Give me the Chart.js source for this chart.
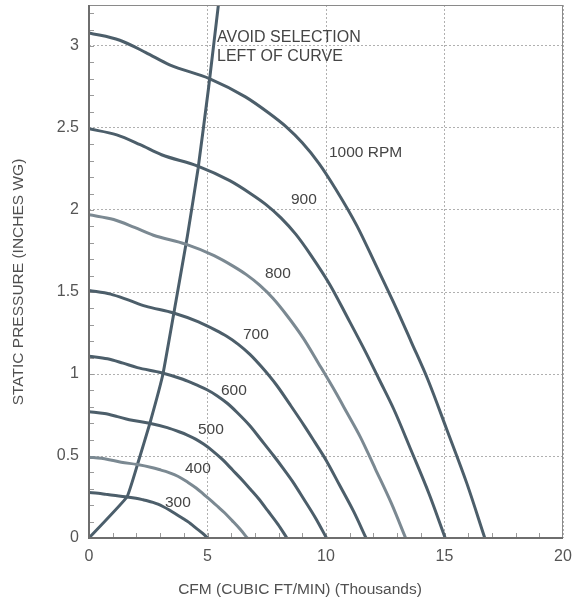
<!DOCTYPE html>
<html>
<head>
<meta charset="utf-8">
<script src="https://cdn.jsdelivr.net/npm/chart.js@4.4.0/dist/chart.umd.min.js"></script>
<style>
  html, body { margin: 0; padding: 0; background: #fff; }
  #wrap { width: 573px; height: 602px; }
</style>
</head>
<body>
<div id="wrap"><canvas id="fanChart"></canvas></div>
<script>
// fan curves, CFM in thousands vs static pressure (in. WG)
var curve1000 = [[0,3.080],[1.3,3.035],[2.4,2.960],[3.4,2.885],[5.1,2.800],[6.6,2.690],[7.6,2.590],[8.3,2.510],[9.0,2.410],[9.7,2.285],[10.4,2.130],[11.3,1.905],[12.1,1.665],[13.0,1.390],[13.6,1.195],[14.3,0.965],[15.1,0.660],[15.95,0.330],[16.7,0]];
var curve900 = [[0,2.495],[1.17,2.458],[2.16,2.398],[3.06,2.337],[4.59,2.268],[5.94,2.179],[6.84,2.098],[7.47,2.033],[8.1,1.952],[8.73,1.851],[9.36,1.725],[10.17,1.543],[10.89,1.349],[11.7,1.126],[12.24,0.968],[12.87,0.782],[13.59,0.535],[14.355,0.267],[15.03,0]];
var curve800 = [[0,1.971],[1.04,1.942],[1.92,1.894],[2.72,1.846],[4.08,1.792],[5.28,1.722],[6.08,1.658],[6.64,1.606],[7.2,1.542],[7.76,1.462],[8.32,1.363],[9.04,1.219],[9.68,1.066],[10.4,0.890],[10.88,0.765],[11.44,0.618],[12.08,0.422],[12.76,0.211],[13.36,0]];
var curve700 = [[0,1.509],[0.91,1.487],[1.68,1.450],[2.38,1.414],[3.57,1.372],[4.62,1.318],[5.32,1.269],[5.81,1.230],[6.3,1.181],[6.79,1.120],[7.28,1.044],[7.91,0.933],[8.47,0.816],[9.1,0.681],[9.52,0.586],[10.01,0.473],[10.57,0.323],[11.165,0.162],[11.69,0]];
var curve600 = [[0,1.109],[0.78,1.093],[1.44,1.066],[2.04,1.039],[3.06,1.008],[3.96,0.968],[4.56,0.932],[4.98,0.904],[5.4,0.868],[5.82,0.823],[6.24,0.767],[6.78,0.686],[7.26,0.599],[7.8,0.500],[8.16,0.431],[8.58,0.347],[9.06,0.238],[9.57,0.119],[10.02,0]];
var curve500 = [[0,0.770],[0.65,0.759],[1.2,0.740],[1.7,0.721],[2.55,0.700],[3.3,0.673],[3.8,0.648],[4.15,0.628],[4.5,0.603],[4.85,0.571],[5.2,0.533],[5.65,0.476],[6.05,0.416],[6.5,0.348],[6.8,0.299],[7.15,0.241],[7.55,0.165],[7.975,0.083],[8.35,0]];
var curve400 = [[0,0.493],[0.52,0.486],[0.96,0.474],[1.36,0.462],[2.04,0.448],[2.64,0.430],[3.04,0.414],[3.32,0.402],[3.6,0.386],[3.88,0.366],[4.16,0.341],[4.52,0.305],[4.84,0.266],[5.2,0.222],[5.44,0.191],[5.72,0.154],[6.04,0.106],[6.38,0.053],[6.68,0]];
var curve300 = [[0,0.277],[0.39,0.273],[0.72,0.266],[1.02,0.260],[1.53,0.252],[1.98,0.242],[2.28,0.233],[2.49,0.226],[2.7,0.217],[2.91,0.206],[3.12,0.192],[3.39,0.171],[3.63,0.150],[3.9,0.125],[4.08,0.108],[4.29,0.087],[4.53,0.059],[4.785,0.030],[5.01,0]];
// "avoid selection" boundary
var surgeLine = [[0,0],[1.6,0.25],[2.07,0.46],[2.57,0.70],[3.12,1.0],[3.7,1.47],[4.15,1.84],[4.6,2.25],[5.05,2.75],[5.5,3.3]];

var rpmLabels = ['1000 RPM', '900', '800', '700', '600', '500', '400', '300'];
var xTicks = [0, 5, 10, 15, 20];
var yTicks = [0, 0.5, 1, 1.5, 2, 2.5, 3];

var curves = [curve1000, curve900, curve800, curve700, curve600, curve500, curve400, curve300];
var dark = '#4c5e6a';
var light = '#7b8992';
var curveColors = [dark, dark, light, dark, dark, dark, light, dark];

function toPoints(arr) {
    return arr.map(function(p) { return {x: p[0], y: p[1]}; });
}

var datasets = curves.map(function(c, i) {
    return {
        label: rpmLabels[i],
        data: toPoints(c),
        borderColor: curveColors[i],
        borderWidth: 3,
        showLine: true,
        pointRadius: 0,
        cubicInterpolationMode: 'monotone'
    };
});
datasets.push({
    label: 'surge',
    data: toPoints(surgeLine),
    borderColor: '#4b5e6b',
    borderWidth: 3,
    showLine: true,
    pointRadius: 0,
    tension: 0.1
});

// frame, minor ticks, titles and curve labels
var decor = {
    id: 'decor',
    beforeDatasetsDraw: function(chart) {
        var c = chart.ctx, a = chart.chartArea;
        var xs = chart.scales.x, ys = chart.scales.y;
        c.save();
        c.strokeStyle = '#9a9a9a';
        c.lineWidth = 1;
        for (var v = 0.1; v < 3.25; v += 0.1) {
            var py = Math.round(ys.getPixelForValue(v)) + 0.5;
            c.beginPath(); c.moveTo(a.left, py); c.lineTo(a.left + 5, py); c.stroke();
        }
        for (var u = 1; u < 20; u++) {
            var px = Math.round(xs.getPixelForValue(u)) + 0.5;
            c.beginPath(); c.moveTo(px, a.bottom); c.lineTo(px, a.bottom - 5); c.stroke();
        }
        c.restore();
    },
    afterDatasetsDraw: function(chart) {
        var c = chart.ctx, a = chart.chartArea;
        c.save();
        c.strokeStyle = '#8a8a8a';
        c.lineWidth = 1;
        c.strokeRect(a.left + 0.5, a.top + 0.5, a.right - a.left - 1, a.bottom - a.top - 1);
        c.strokeStyle = '#6e6e6e';
        c.lineWidth = 2;
        c.beginPath();
        c.moveTo(a.left, a.top); c.lineTo(a.left, a.bottom); c.lineTo(a.right, a.bottom);
        c.stroke();

        c.fillStyle = '#454545';
        c.font = '16px "Liberation Sans", Arial, sans-serif';
        c.textBaseline = 'middle';
        c.textAlign = 'left';
        c.fillText('AVOID SELECTION', 217, 38);
        c.fillText('LEFT OF CURVE', 217, 57);

        var spots = [[329, 153], [291, 200], [265, 274], [243, 335], [221, 391], [198, 430], [185, 469], [165, 503]];
        c.font = '15.5px "Liberation Sans", Arial, sans-serif';
        rpmLabels.forEach(function(t, i) {
            c.fillText(t, spots[i][0], spots[i][1]);
        });

        c.fillStyle = '#505050';
        c.textAlign = 'center';
        c.font = '15.5px "Liberation Sans", Arial, sans-serif';
        c.fillText('CFM (CUBIC FT/MIN) (Thousands)', 300, 590);
        c.translate(19, 282);
        c.rotate(-Math.PI / 2);
        c.fillText('STATIC PRESSURE (INCHES WG)', 0, 0);
        c.restore();
    }
};

var tickFont = { family: '"Liberation Sans", Arial, sans-serif', size: 16 };
function plainLabel(v) { return String(v); }

new Chart(document.getElementById('fanChart'), {
    type: 'scatter',
    data: { datasets: datasets },
    options: {
        responsive: true,
        maintainAspectRatio: false,
        animation: false,
        layout: { padding: { top: 5, right: 10, left: 0, bottom: 0 } },
        plugins: { legend: { display: false }, tooltip: { enabled: false } },
        scales: {
            x: {
                type: 'linear',
                min: 0, max: 20,
                afterFit: function(s) { s.height = 64; s.paddingLeft = 0; s.paddingRight = 0; },
                afterBuildTicks: function(s) { s.ticks = xTicks.map(function(v) { return {value: v}; }); },
                border: { display: false, dash: [2, 2] },
                grid: {
                    drawTicks: false,
                    color: function(ctx) { return ctx.tick && ctx.tick.value === 0 ? 'rgba(0,0,0,0)' : '#b0b0b0'; }
                },
                ticks: { padding: 9, color: '#555', font: tickFont, callback: plainLabel }
            },
            y: {
                type: 'linear',
                min: 0, max: 3.25,
                afterFit: function(s) { s.width = 89; s.paddingTop = 0; s.paddingBottom = 0; },
                afterBuildTicks: function(s) { s.ticks = yTicks.map(function(v) { return {value: v}; }); },
                border: { display: false, dash: [2, 2] },
                grid: {
                    drawTicks: false,
                    color: function(ctx) { return ctx.tick && ctx.tick.value === 0 ? 'rgba(0,0,0,0)' : '#b0b0b0'; }
                },
                ticks: { padding: 10, color: '#555', font: tickFont, callback: plainLabel }
            }
        }
    },
    plugins: [decor]
});
</script>
</body>
</html>
